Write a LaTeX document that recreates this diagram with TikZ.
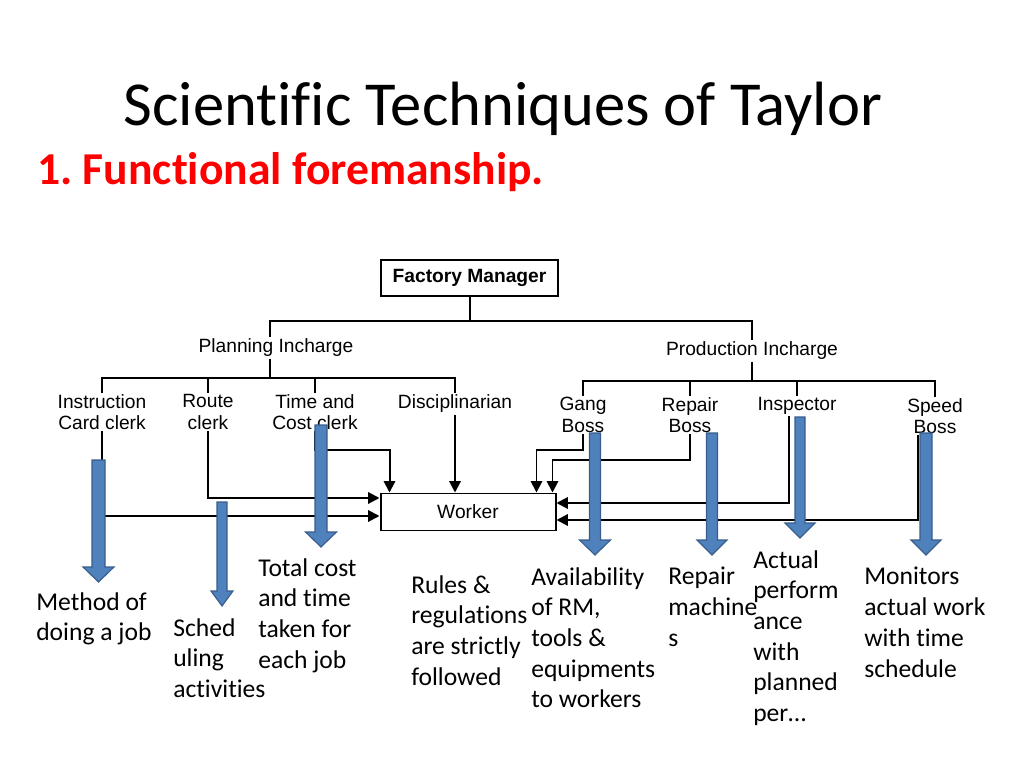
\documentclass[tikz,border=0pt]{standalone}
\usepackage{fontspec}
\setmainfont{Carlito}[Ligatures=NoCommon]
\newfontfamily\chartfont{Liberation Sans}
\usepackage{xcolor}
\usetikzlibrary{arrows.meta,calc}
\definecolor{ArrowBlue}{HTML}{4F81BD}
\definecolor{ArrowEdge}{HTML}{385D8A}
\definecolor{TitleRed}{HTML}{FF0000}

\tikzset{
  chartline/.style={line width=1.4pt},
  chartarrow/.style={chartline,-{Triangle[length=8pt,width=8pt]}},
  chartbox/.style={draw,chartline,inner sep=1pt,
    font=\chartfont\fontsize{13.5}{15}\selectfont},
  chartlabel/.style={align=center,inner sep=1pt,
    font=\chartfont\fontsize{13.5}{15}\selectfont},
  notetext/.style={anchor=north west,align=left,inner sep=0pt,
    font=\fontsize{18}{21.6}\selectfont},
  blockarrow/.style={fill=ArrowBlue,draw=ArrowEdge,line width=0.8pt}
}

% x, top, tip, shaft width, head width
\newcommand{\bluedown}[5]{%
  \filldraw[blockarrow] ({#1-#4/2},#2) -- ({#1+#4/2},#2) -- ({#1+#4/2},{#3-15})
    -- ({#1+#5/2},{#3-15}) -- (#1,#3) -- ({#1-#5/2},{#3-15})
    -- ({#1-#4/2},{#3-15}) -- cycle;}

\begin{document}
\begin{tikzpicture}[x=0.703125pt,y=-0.703125pt]
  \useasboundingbox (0,0) rectangle (1024,768);

  % headings
  \node[anchor=base,inner sep=0pt,font=\fontsize{44}{52}\selectfont] (title) at (503,126) {Scientific Techniques of Taylor};
  \node[anchor=base west,inner sep=0pt,text=TitleRed,font=\fontsize{32.1}{38}\selectfont\bfseries] (sub) at (37,185) {1.\ Functional foremanship.};

  % chart nodes
  \node[chartbox,minimum width=177*0.703125pt,minimum height=36*0.703125pt,
    font=\chartfont\bfseries\fontsize{13.5}{15}\selectfont] (fm) at (469.5,278) {Factory Manager};
  \node[chartlabel] (plan) at (276,348) {Planning Incharge};
  \node[chartlabel] (prod) at (752,351) {Production Incharge};
  \node[chartlabel] (icc) at (102,412) {Instruction\\Card clerk};
  \node[chartlabel] (rc) at (208,412) {Route\\clerk};
  \node[chartlabel] (tcc) at (315,412) {Time and\\Cost clerk};
  \node[chartlabel] (disc) at (455,404) {Disciplinarian};
  \node[chartlabel] (gb) at (583,415) {Gang\\Boss};
  \node[chartlabel] (rb) at (690,415) {Repair\\Boss};
  \node[chartlabel] (insp) at (797,406) {Inspector};
  \node[chartlabel] (sb) at (935,416) {Speed\\Boss};
  \node[chartbox,minimum width=175*0.703125pt,minimum height=37*0.703125pt] (wk) at (468,512) {Worker};

  % tree
  \coordinate (splitL) at (270,321);
  \coordinate (splitR) at (752,321);
  \coordinate (busP) at (270,378);
  \coordinate (busQ) at (752,381);
  \draw[chartline] (fm.south) -- (fm.south |- splitL);
  \draw[chartline] (splitL |- plan.north) -- (splitL) -- (splitR) -- (splitR |- prod.north);
  \draw[chartline] (splitL |- plan.south) -- (busP);
  \draw[chartline] (splitR |- prod.south) -- (busQ);
  \draw[chartline] (icc.north) |- (busP) -| (disc.north);
  \draw[chartline] (rc.north) -- (rc.north |- busP);
  \draw[chartline] (tcc.north) -- (tcc.north |- busP);
  \draw[chartline] (gb.north) |- (busQ) -| (sb.north);
  \draw[chartline] (rb.north) -- (rb.north |- busQ);
  \draw[chartline] (insp.north) -- (insp.north |- busQ);

  % orders to the worker
  \draw[chartarrow] (icc.south) |- ($(wk.west)+(0,4)$);
  \draw[chartarrow] (rc.south) |- ($(wk.west)+(0,-14)$);
  \draw[chartarrow] (tcc.south) |- ($(wk.north west)+(10,-43)$) -- ($(wk.north west)+(10,0)$);
  \draw[chartarrow] (disc.south) -- (disc.south |- wk.north);
  \draw[chartarrow] (gb.south) |- ($(wk.north east)+(-20,-43)$) -- ($(wk.north east)+(-20,0)$);
  \draw[chartarrow] (rb.south) |- ($(wk.north east)+(-4,-33)$) -- ($(wk.north east)+(-4,0)$);
  \draw[chartarrow] ($(insp.south)+(-8,0)$) |- ($(wk.east)+(0,-9)$);
  \draw[chartarrow] ($(sb.south)+(-17,0)$) |- ($(wk.east)+(0,8)$);

  % blue arrows
  \bluedown{98.5}{460}{582}{13}{31}
  \bluedown{222}{502}{606}{10}{22}
  \bluedown{321}{425}{547}{12}{31}
  \bluedown{595}{433}{555}{11}{31}
  \bluedown{712}{433}{555}{11}{30}
  \bluedown{800}{417}{538}{10}{30}
  \bluedown{926}{433}{555}{12}{30}

  % notes
  \node[notetext] (n1) at (36,592) {Method of\\doing a job};
  \node[notetext] (n2) at (173,618) {Sched\\uling\\activities};
  \node[notetext] (n3) at (258,558) {Total cost\\and time\\taken for\\each job};
  \node[notetext] (n4) at (411,575) {Rules \&\\regulations\\are strictly\\followed};
  \node[notetext] (n5) at (531,567) {Availability\\of RM,\\tools \&\\equipments\\to workers};
  \node[notetext] (n6) at (668,567) {Repair\\machine\\s};
  \node[notetext] (n7) at (753,550) {Actual\\perform\\ance\\with\\planned\\per\dots};
  \node[notetext] (n8) at (864,567) {Monitors\\actual work\\with time\\schedule};
\end{tikzpicture}
\end{document}
